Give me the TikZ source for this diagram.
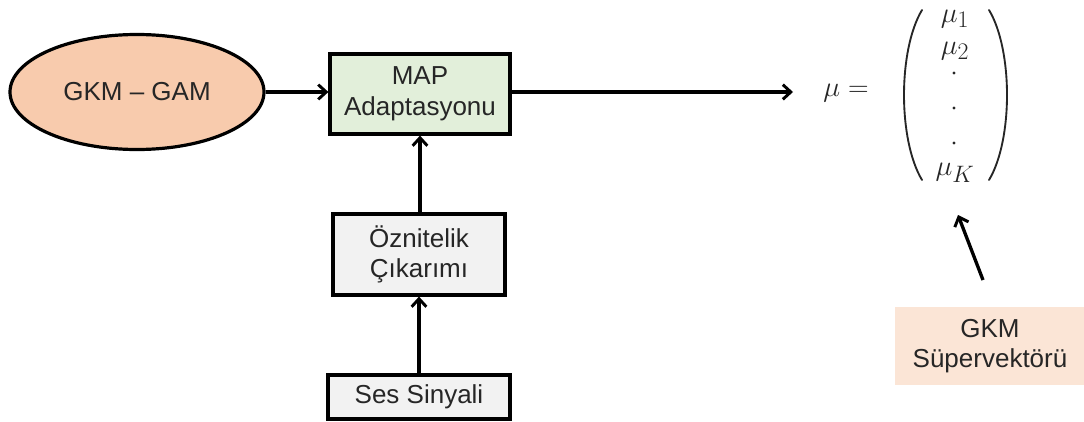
\documentclass[tikz,border=0pt]{standalone}
\usepackage{graphicx}
\usepackage{fontspec}
\setmainfont{Liberation Sans}
\usetikzlibrary{arrows.meta,shapes.geometric}
\definecolor{peach}{HTML}{F8CBAD}
\definecolor{palegreen}{HTML}{E2EFDA}
\definecolor{palegray}{HTML}{F2F2F2}
\definecolor{palepeach}{HTML}{FBE5D6}
\definecolor{ink}{HTML}{262626}
% vector entries: large math, slightly reduced
\newcommand{\vecmath}[1]{\scalebox{0.86}{$#1$}}
\tikzset{
  px/.style={x=0.75pt,y=-0.75pt},
  boxtext/.style={text=ink,font=\fontsize{19.5}{23}\selectfont,align=center,inner sep=0pt},
  blockbox/.style={boxtext,draw=black,line width=2.4pt,minimum width=#1},
  flow/.style={draw=black,line width=2.5pt,-{Straight Barb[length=6pt,width=11pt,line width=2.2pt]}},
  entry/.style={inner sep=0pt,text=ink,font=\fontsize{24.88}{28}\selectfont},
  vdot/.style={circle,fill=ink,inner sep=0pt,minimum size=2.4pt},
  paren/.style={draw=ink,line width=1.4pt,line cap=round}
}
\begin{document}
\begin{tikzpicture}[px]
\useasboundingbox (0,0) rectangle (1084,421);

% source model and adaptation block
\node[boxtext,ellipse,draw=black,line width=2.4pt,fill=peach,
      minimum width=254*0.75pt,minimum height=115*0.75pt] (gam) at (137,92) {GKM -- GAM};
\node[blockbox=180*0.75pt,fill=palegreen,minimum height=80*0.75pt] (map) at (420,94) {MAP\\Adaptasyonu};

% feature extraction chain
\node[blockbox=172*0.75pt,fill=palegray,minimum height=81*0.75pt] (feat) at (419,254.5) {Öznitelik\\Çıkarımı};
\node[blockbox=182*0.75pt,fill=palegray,minimum height=44*0.75pt] (sig) at (419,397) {Ses Sinyali};

% supervector label
\node[boxtext,fill=palepeach,minimum width=190*0.75pt,minimum height=78*0.75pt] (sv) at (990,346) {GKM\\Süpervektörü};

% mean vector
\node[entry,anchor=east] (mu) at (869,93) {\vecmath{\mu =}};
\node[entry] (m1) at (955,19) {\vecmath{\mu_1}};
\node[entry] (m2) at (955,51) {\vecmath{\mu_2}};
\node[vdot] (d1) at (954,73) {};
\node[vdot] (d2) at (954,108) {};
\node[vdot] (d3) at (954,143) {};
\node[entry] (mk) at (955,173) {\vecmath{\mu_K}};
\coordinate (lp) at (922,10);
\coordinate (rp) at (989,10);
\draw[paren] (lp) .. controls (898,50) and (898,140) .. (922,180);
\draw[paren] (rp) .. controls (1013,50) and (1013,140) .. (989,180);

% connectors
\coordinate (outend) at (793,92);
\coordinate (svstart) at (983,280);
\coordinate (svend) at (958,215);
\draw[flow] (gam.east) -- (gam.east -| map.west);
\draw[flow] (map.east |- outend) -- (outend);
\draw[flow] (feat.north -| map.south) -- (map.south);
\draw[flow] (sig.north) -- (feat.south);
\draw[flow] (svstart) -- (svend);
\end{tikzpicture}
\end{document}
